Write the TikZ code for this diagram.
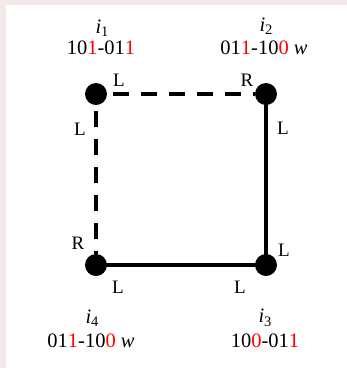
\documentclass[tikz,border=0pt]{standalone}
\usepackage{fontspec}
\setmainfont{Liberation Serif}
\newcommand{\idx}[1]{\textit{i}\raisebox{-3.5pt}{\fontsize{14.5}{14.5}\selectfont #1}}
\begin{document}
\begin{tikzpicture}[x=1pt,y=-1pt,
  dot/.style={circle,fill=black,inner sep=0pt,minimum size=22pt},
  edge/.style={line width=3.8pt},
  dashedge/.style={line width=3.8pt,dash pattern=on 16pt off 12pt},
  lbl/.style={font=\fontsize{20.5}{22}\selectfont,inner sep=0pt},
  side/.style={font=\fontsize{19}{21}\selectfont,inner sep=0pt}]
\definecolor{bgpink}{RGB}{243,233,232}
\definecolor{rd}{RGB}{255,0,0}
\fill[bgpink] (0,0) rectangle (347,368);
\fill[white] (6,5) rectangle (347,368);
\useasboundingbox (0,0) rectangle (347,368);
\node[dot] (n1) at (96,94) {};
\node[dot] (n2) at (266,94) {};
\node[dot] (n3) at (266,265) {};
\node[dot] (n4) at (96,265) {};
\draw[dashedge,dash phase=-6pt] (n1.east) -- (n2.west);
\draw[dashedge,dash phase=-6pt] (n1.south) -- (n4.north);
\draw[edge] (n2.center) -- (n3.center);
\draw[edge] (n3.center) -- (n4.center);
\node[lbl] (t1) at (102,28) {\idx{1}};
\node[lbl] (c1) at (101,48) {10{\color{rd}1}-01{\color{rd}1}};
\node[lbl] (t2) at (266,26) {\idx{2}};
\node[lbl] (c2) at (264,48) {01{\color{rd}1}-10{\color{rd}0} \textit{w}};
\node[lbl] (t4) at (92,318) {\idx{4}};
\node[lbl] (c4) at (91,341) {01{\color{rd}1}-10{\color{rd}0} \textit{w}};
\node[lbl] (t3) at (265,318) {\idx{3}};
\node[lbl] (c3) at (265,341) {10{\color{rd}0}-01{\color{rd}1}};
\node[side] (s1) at (119,80) {L};
\node[side] (s2) at (247,80) {R};
\node[side] (s3) at (80,129) {L};
\node[side] (s4) at (283,128) {L};
\node[side] (s5) at (78,243) {R};
\node[side] (s6) at (284,250) {L};
\node[side] (s7) at (118,287) {L};
\node[side] (s8) at (240,287) {L};
\end{tikzpicture}
\end{document}
